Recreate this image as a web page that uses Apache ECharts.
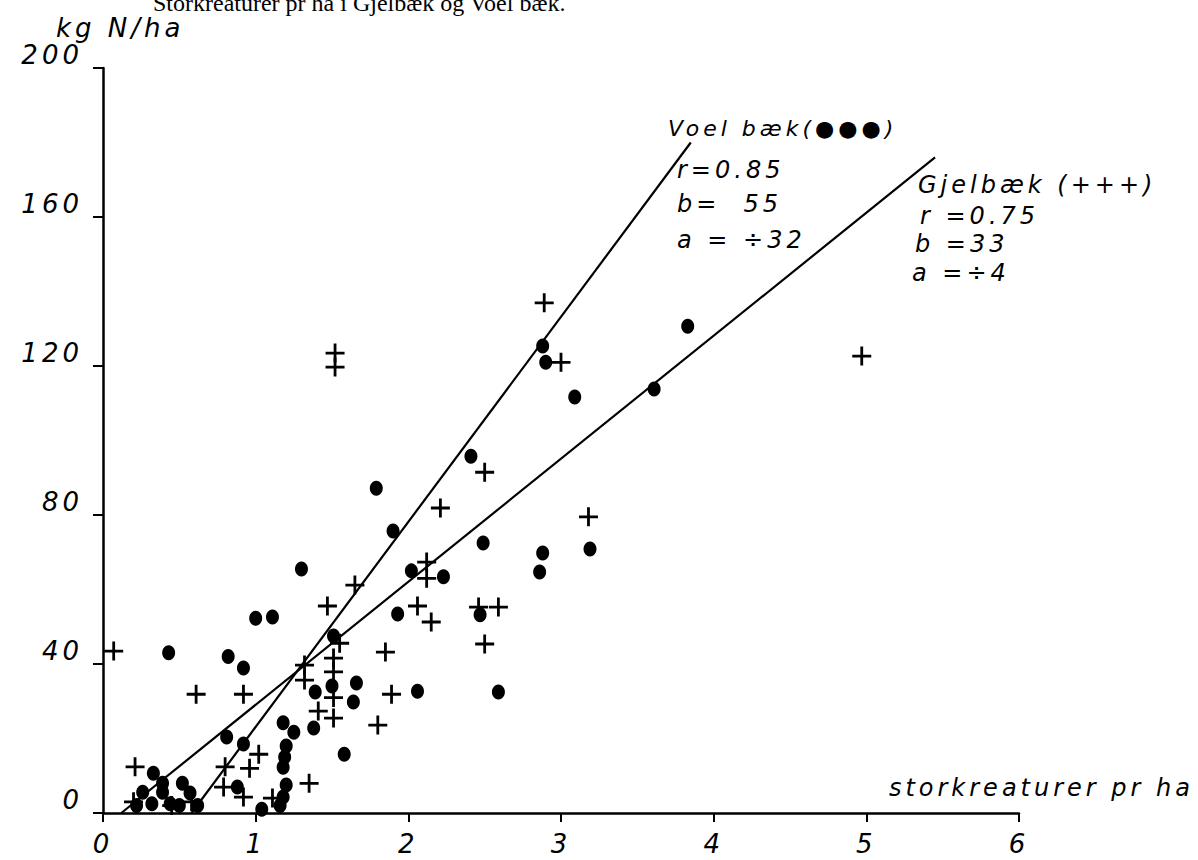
<!DOCTYPE html>
<html>
<head>
<meta charset="utf-8">
<script src="https://cdn.jsdelivr.net/npm/echarts@6/dist/echarts.min.js"></script>
<style>
html,body{margin:0;padding:0;background:#fff;}
#chart{width:1198px;height:860px;}
#chart text{letter-spacing:4px;}
#chart text[style*="Serif"]{letter-spacing:0px;}
</style>
</head>
<body>
<div id="chart"></div>
<script>
// ---- data ----
const xTickValues = [0, 1, 2, 3, 4, 5, 6];
const yTickValues = [0, 40, 80, 120, 160, 200];

// Voel bæk (filled dots): [storkreaturer pr ha, kg N/ha]
const voelPoints = [
  [1.90, 75.7], [1.30, 65.5], [2.02, 65.0], [2.23, 63.4], [1.00, 52.3],
  [1.11, 52.6], [1.93, 53.4], [0.43, 43.0], [0.82, 42.0], [0.92, 38.9],
  [1.51, 47.5], [1.39, 32.5], [1.50, 34.1], [1.66, 34.9], [1.64, 29.8],
  [2.06, 32.7], [1.18, 24.2], [1.25, 21.7], [1.38, 22.8], [0.81, 20.4],
  [0.92, 18.5], [1.20, 18.0], [1.19, 15.0], [1.18, 12.3], [1.58, 15.8],
  [0.33, 10.7], [1.20, 7.5], [0.88, 7.0], [0.52, 8.0], [2.49, 72.5],
  [2.88, 69.8], [2.86, 64.7], [3.19, 70.9], [2.47, 53.2], [2.59, 32.5],
  [2.88, 125.4], [2.90, 121.0], [3.09, 111.7], [3.83, 130.7], [3.61, 113.8],
  [2.41, 95.8], [1.79, 87.2], [1.18, 4.3],
  [0.22, 2.0], [0.26, 5.6], [0.32, 2.5], [0.39, 5.6], [0.39, 8.0],
  [0.44, 2.5], [0.50, 2.0], [0.57, 5.4], [0.62, 2.0], [1.04, 1.0], [1.16, 2.0]
];

// Gjelbæk (crosses)
const gjelPoints = [
  [2.21, 81.9], [2.12, 67.4], [2.12, 63.0], [1.65, 61.2], [1.47, 55.6],
  [2.06, 55.6], [2.15, 51.3], [0.07, 43.5], [1.85, 43.2], [1.55, 45.6],
  [1.51, 41.6], [1.51, 37.9], [1.32, 39.7], [1.32, 35.7], [0.61, 31.9],
  [0.92, 31.9], [1.51, 31.0], [1.89, 31.9], [1.41, 27.4], [1.51, 25.5],
  [1.80, 23.6], [1.02, 15.8], [0.80, 12.4], [0.96, 12.0], [0.21, 12.4],
  [1.35, 8.0], [0.79, 7.0], [3.18, 79.5], [2.46, 55.3], [2.59, 55.3],
  [2.50, 45.4], [2.89, 137.0], [3.00, 121.0], [4.97, 122.7], [1.52, 123.5],
  [1.52, 119.7], [2.50, 91.5], [0.92, 4.3], [1.11, 4.0],
  [0.20, 3.0], [0.45, 2.0], [0.58, 3.0]
];

// regression lines (end points)
const voelLine = [[0.58, 0], [3.85, 180]];
const gjelLine = [[0.12, 0], [5.45, 176]];

const titleText = 'Storkreaturer pr ha i Gjelbæk og Voel bæk.';
const yName = 'kg N/ha';
const xName = 'storkreaturer pr ha';
const voelName = 'Voel bæk';
const gjelName = 'Gjelbæk';
const voelStats = ['r=0.85', 'b=  55', 'a = ÷32'];
const gjelStats = ['r =0.75', 'b =33', 'a =÷4'];

// ---- chart ----
const font = 'DejaVu Sans';
const ink = '#000';
const plusPath = 'path://M0,8.2 H19 V11 H0 Z M8.1,0 H10.9 V19 H8.1 Z';
const labelFont = 'italic 24px "' + font + '"';

const chart = echarts.init(document.getElementById('chart'), null, {renderer: 'svg'});

function txt(t, x, y, align, f) {
  return {
    type: 'text', silent: true,
    style: {text: t, x: x, y: y, fill: ink, font: f || labelFont,
            textAlign: align || 'left', textVerticalAlign: 'middle'}
  };
}

const option = {
  animation: false,
  backgroundColor: '#fff',
  title: {
    text: titleText, left: 148, top: -14,
    textStyle: {fontFamily: 'Liberation Serif', fontSize: 24, fontWeight: 'normal', color: ink}
  },
  grid: {left: 103, right: 179, top: 68, bottom: 47},
  xAxis: {
    type: 'value', min: xTickValues[0], max: xTickValues[xTickValues.length - 1], interval: 1,
    axisLine: {show: true, onZero: false, lineStyle: {color: ink, width: 2.5}},
    axisTick: {show: true, inside: false, length: 9, lineStyle: {color: ink, width: 2}},
    splitLine: {show: false},
    axisLabel: {color: ink, fontFamily: font, fontStyle: 'italic', fontSize: 26, margin: 18}
  },
  yAxis: {
    type: 'value', min: yTickValues[0], max: yTickValues[yTickValues.length - 1], interval: 40,
    axisLine: {show: true, onZero: false, lineStyle: {color: ink, width: 2.5}},
    axisTick: {show: true, inside: false, length: 10, lineStyle: {color: ink, width: 2}},
    splitLine: {show: false},
    axisLabel: {color: ink, fontFamily: font, fontStyle: 'italic', fontSize: 26, margin: 20,
                verticalAlign: 'bottom', lineHeight: 26}
  },
  graphic: [
    txt(yName, 56, 28, 'left', 'italic 26px "' + font + '"'),
    txt(xName, 1194, 788, 'right'),
    txt(voelName + '(●●●)', 668, 128, 'left', 'italic 22px "' + font + '"'),
    txt(voelStats[0], 677, 170),
    txt(voelStats[1], 677, 204),
    txt(voelStats[2], 677, 240),
    txt(gjelName + ' (+++)', 918, 185),
    txt(gjelStats[0], 920, 216),
    txt(gjelStats[1], 915, 244),
    txt(gjelStats[2], 912, 273)
  ],
  series: [
    {
      name: 'Voel line', type: 'line', data: voelLine, showSymbol: false, silent: true,
      lineStyle: {color: ink, width: 2.2}, z: 2
    },
    {
      name: 'Gjel line', type: 'line', data: gjelLine, showSymbol: false, silent: true,
      lineStyle: {color: ink, width: 2.2}, z: 2
    },
    {
      name: voelName, type: 'scatter', data: voelPoints, symbol: 'circle', symbolSize: [13, 15],
      itemStyle: {color: ink, opacity: 1}, z: 3
    },
    {
      name: gjelName, type: 'scatter', data: gjelPoints, symbol: plusPath, symbolSize: 19,
      itemStyle: {color: ink, opacity: 1}, z: 3
    }
  ]
};
chart.setOption(option);
</script>
</body>
</html>
